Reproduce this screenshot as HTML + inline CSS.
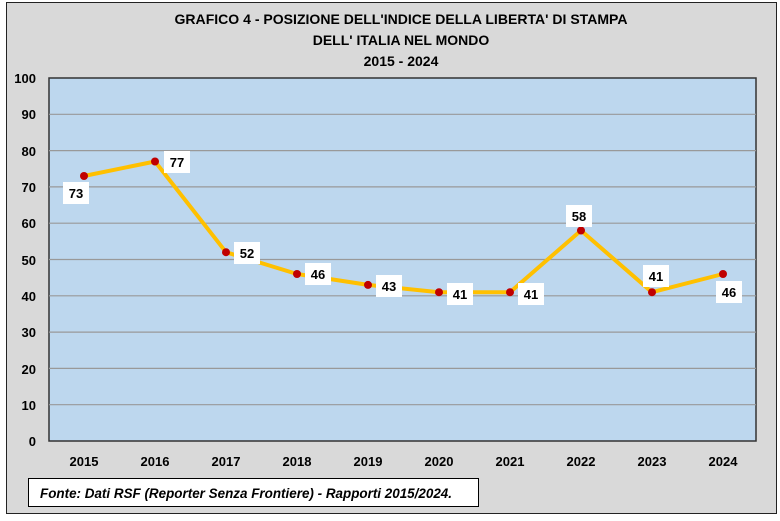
<!DOCTYPE html>
<html><head><meta charset="utf-8"><style>
body{margin:0;background:#fff}
svg text{font-family:"Liberation Sans",Calibri,sans-serif;font-weight:bold}
</style></head><body>
<svg width="780" height="516" xmlns="http://www.w3.org/2000/svg">
<rect x="6.5" y="2.5" width="770" height="511" fill="#d9d9d9" stroke="#222" stroke-width="1"/>
<text x="401" y="24" font-size="14" text-anchor="middle" fill="#000" textLength="453" lengthAdjust="spacingAndGlyphs">GRAFICO 4 - POSIZIONE DELL'INDICE DELLA LIBERTA' DI STAMPA</text>
<text x="401" y="45" font-size="14" text-anchor="middle" fill="#000">DELL' ITALIA NEL MONDO</text>
<text x="401" y="66" font-size="14" text-anchor="middle" fill="#000">2015 - 2024</text>
<rect x="49" y="78" width="707" height="363" fill="#bdd7ee" stroke="#333" stroke-width="1.5"/>
<g stroke="#999" stroke-width="1.2">
<line x1="49" x2="756" y1="114.3" y2="114.3"/><line x1="49" x2="756" y1="150.6" y2="150.6"/>
<line x1="49" x2="756" y1="186.9" y2="186.9"/><line x1="49" x2="756" y1="223.2" y2="223.2"/>
<line x1="49" x2="756" y1="259.5" y2="259.5"/><line x1="49" x2="756" y1="295.8" y2="295.8"/>
<line x1="49" x2="756" y1="332.1" y2="332.1"/><line x1="49" x2="756" y1="368.4" y2="368.4"/>
<line x1="49" x2="756" y1="404.7" y2="404.7"/>
</g>
<g font-size="13" text-anchor="end" fill="#000">
<text x="36" y="83">100</text><text x="36" y="119">90</text><text x="36" y="156">80</text>
<text x="36" y="192">70</text><text x="36" y="228">60</text><text x="36" y="265">50</text>
<text x="36" y="301">40</text><text x="36" y="337">30</text><text x="36" y="374">20</text>
<text x="36" y="410">10</text><text x="36" y="446">0</text>
</g>
<g font-size="13" text-anchor="middle" fill="#000">
<text x="84" y="466">2015</text><text x="155" y="466">2016</text><text x="226" y="466">2017</text>
<text x="297" y="466">2018</text><text x="368" y="466">2019</text><text x="439" y="466">2020</text>
<text x="510" y="466">2021</text><text x="581" y="466">2022</text><text x="652" y="466">2023</text>
<text x="723" y="466">2024</text>
</g>
<polyline fill="none" stroke="#ffc000" stroke-width="4" stroke-linejoin="round"
points="84,176 155,161.5 226,252.2 297,274 368,284.9 439,292.2 510,292.2 581,230.5 652,292.2 723,274"/>
<g fill="#c00000">
<circle cx="84" cy="176" r="4"/><circle cx="155" cy="161.5" r="4"/><circle cx="226" cy="252.2" r="4"/>
<circle cx="297" cy="274" r="4"/><circle cx="368" cy="284.9" r="4"/><circle cx="439" cy="292.2" r="4"/>
<circle cx="510" cy="292.2" r="4"/><circle cx="581" cy="230.5" r="4"/><circle cx="652" cy="292.2" r="4"/>
<circle cx="723" cy="274" r="4"/>
</g>
<g fill="#fff">
<rect x="63" y="182" width="26" height="22"/><rect x="164" y="151" width="26" height="22"/>
<rect x="234" y="242" width="26" height="22"/><rect x="305" y="263" width="26" height="22"/>
<rect x="376" y="275" width="26" height="22"/><rect x="447" y="283" width="26" height="22"/>
<rect x="518" y="283" width="26" height="22"/><rect x="566" y="205" width="26" height="22"/>
<rect x="643" y="265" width="26" height="22"/><rect x="716" y="281" width="26" height="22"/>
</g>
<g font-size="13" text-anchor="middle" fill="#000">
<text x="76" y="198">73</text><text x="177" y="167">77</text><text x="247" y="258">52</text>
<text x="318" y="279">46</text><text x="389" y="291">43</text><text x="460" y="299">41</text>
<text x="531" y="299">41</text><text x="579" y="221">58</text><text x="656" y="281">41</text>
<text x="729" y="297">46</text>
</g>
<rect x="28.5" y="478.5" width="450" height="28" fill="#fff" stroke="#000" stroke-width="1"/>
<text x="40" y="498" font-size="13.5" font-style="italic" fill="#000" textLength="412" lengthAdjust="spacingAndGlyphs">Fonte: Dati RSF (Reporter Senza Frontiere) - Rapporti 2015/2024.</text>
</svg>
</body></html>
